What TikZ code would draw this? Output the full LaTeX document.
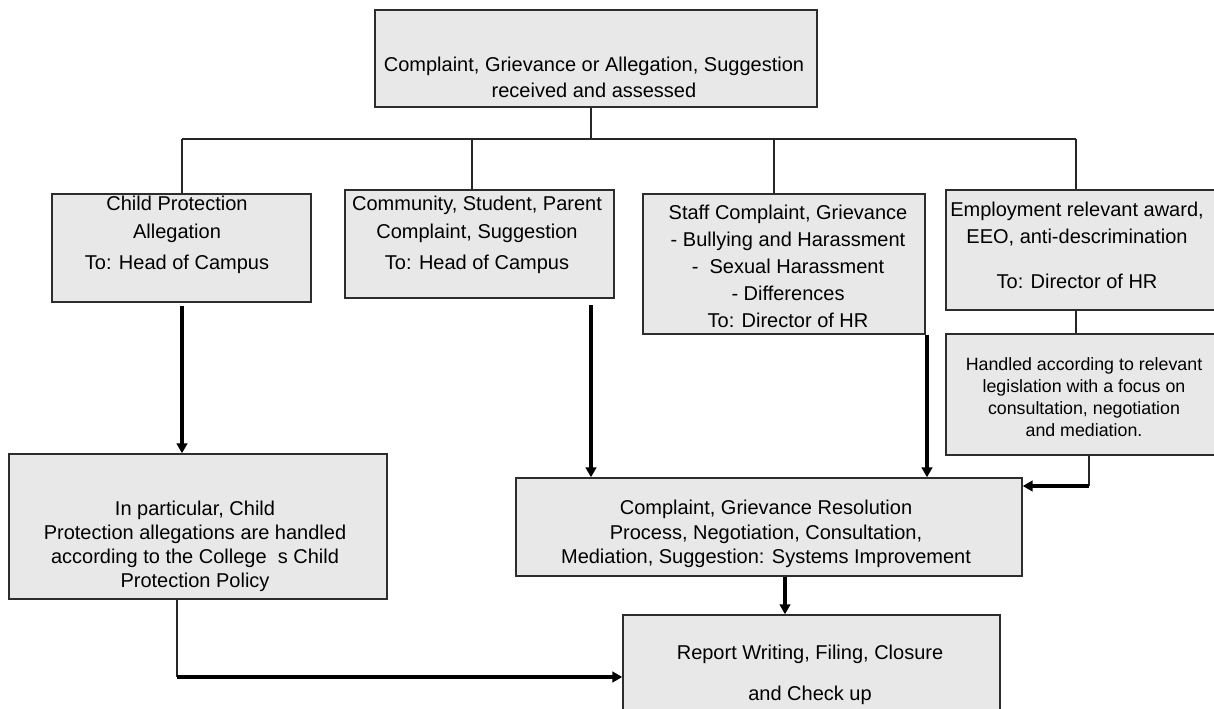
\documentclass[tikz,border=0pt]{standalone}
\usepackage{fontspec}
\setmainfont{Liberation Sans}
\usetikzlibrary{arrows.meta}
\definecolor{boxfill}{RGB}{232,232,232}
\definecolor{boxline}{RGB}{45,45,45}
\begin{document}
\begin{tikzpicture}[x=0.75pt,y=-0.75pt,
  box/.style={draw=boxline, line width=1.1pt, fill=boxfill, inner sep=0pt},
  txt/.style={inner sep=0pt, align=center, font=\fontsize{15}{19.5}\selectfont},
  tree/.style={line width=0.9pt, draw=black!85},
  arr/.style={line width=2.3pt, draw=black, -{Triangle[length=7.5pt,width=8pt]}},
]
\path[use as bounding box] (0,0) rectangle (1214,709);
\clip (0,0) rectangle (1214,709);
\fill[white] (0,0) rectangle (1214,709);

% boxes
\node[box, minimum width=331.5pt, minimum height=72.75pt] (top) at (596,58.5) {};
\node[box, minimum width=194.25pt, minimum height=81pt] (cp) at (181.5,248) {};
\node[box, minimum width=201.75pt, minimum height=81pt] (cs) at (479.5,244) {};
\node[box, minimum width=211.5pt, minimum height=105pt] (st) at (784,264) {};
\node[box, minimum width=202.5pt, minimum height=90pt] (em) at (1081,250) {};
\node[box, minimum width=202.5pt, minimum height=90.75pt] (hd) at (1081,394.5) {};
\node[box, minimum width=283.5pt, minimum height=108.75pt] (ip) at (198,526.5) {};
\node[box, minimum width=379.5pt, minimum height=73.5pt] (res) at (769,527) {};
\node[box, minimum width=282.75pt, minimum height=86.25pt] (rep) at (811.5,672.5) {};

% texts
\node[txt] (t-top) at (594,77) {Complaint, Grievance or Allegation, Suggestion\\received and assessed};
\node[txt, font=\fontsize{15}{21}\selectfont] (t-cp) at (177,235) {Child Protection\\Allegation\\[2.25pt]To: Head of Campus};
\node[txt, font=\fontsize{15}{21}\selectfont] (t-cs) at (477,235) {Community, Student, Parent\\Complaint, Suggestion\\[2.25pt]To: Head of Campus};
\node[txt, font=\fontsize{15}{20.25}\selectfont] (t-st) at (788,266) {Staff Complaint, Grievance\\- Bullying and Harassment\\-\ \ Sexual Harassment\\- Differences\\To: Director of HR};
\node[txt, font=\fontsize{15}{20.25}\selectfont] (t-em) at (1077,245) {Employment relevant award,\\EEO, anti-descrimination\\[13.5pt]To: Director of HR};
\node[txt, font=\fontsize{13.35}{16.5}\selectfont] (t-hd) at (1084,397) {Handled according to relevant\\legislation with a focus on\\consultation, negotiation\\and mediation.};
\node[txt, font=\fontsize{15}{18}\selectfont] (t-ip) at (195,546) {In particular, Child\\Protection allegations are handled\\according to the College\ \ s Child\\Protection Policy};
\node[txt, font=\fontsize{15}{18.4}\selectfont] (t-res) at (766,534) {Complaint, Grievance Resolution\\Process, Negotiation, Consultation,\\Mediation, Suggestion: Systems Improvement};
\node[txt, font=\fontsize{15}{30.75}\selectfont] (t-rep) at (810,675) {Report Writing, Filing, Closure\\and Check up};

% tree connectors
\coordinate (bus) at (591,139);
\coordinate (d1) at (182,139);
\coordinate (d2) at (472,139);
\coordinate (d3) at (774,139);
\coordinate (d4) at (1076,139);
\draw[tree] (top.south -| bus) -- (bus);
\draw[tree] (d1) -- (d4);
\draw[tree] (d1) -- (d1 |- cp.north);
\draw[tree] (d2) -- (d2 |- cs.north);
\draw[tree] (d3) -- (d3 |- st.north);
\draw[tree] (d4) -- (d4 |- em.north);
\draw[tree] (em.south -| d4) -- (d4 |- hd.north);

% arrows
\coordinate (x2) at (591,0);
\coordinate (x3) at (927,0);
\coordinate (x7) at (785,0);
\coordinate (k4) at (1089,486);
\coordinate (k6) at (177,677);
\draw[arr, shorten <=2.25pt] (cp.south -| d1) -- (d1 |- ip.north);
\draw[arr, shorten <=5pt] (cs.south -| x2) -- (x2 |- res.north);
\draw[arr] (st.south -| x3) -- (x3 |- res.north);
\draw[tree] (hd.south -| k4) -- (k4);
\draw[arr] (k4) -- (k4 -| res.east);
\draw[tree] (ip.south -| k6) -- (k6);
\draw[arr] (k6) -- (k6 -| rep.west);
\draw[arr] (res.south -| x7) -- (x7 |- rep.north);
\end{tikzpicture}
\end{document}
